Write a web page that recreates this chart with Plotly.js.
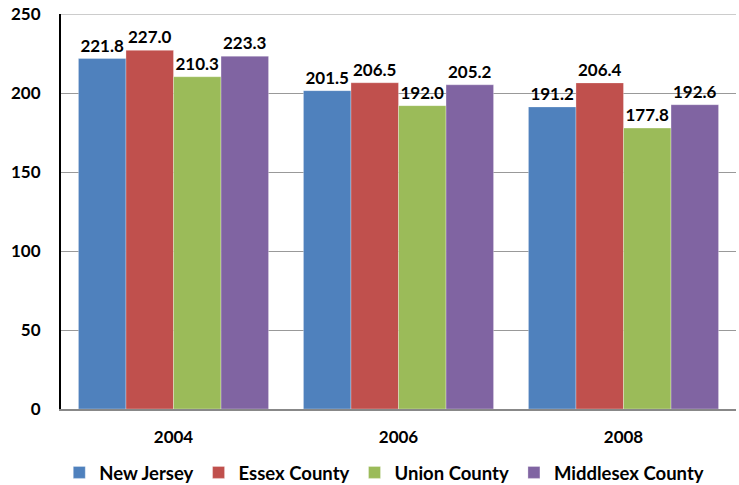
<!DOCTYPE html>
<html><head><meta charset="utf-8">
<script src="https://cdn.plot.ly/plotly-3.0.1.min.js"></script>
<style>body{margin:0;padding:0;background:#fff}#chart{width:739px;height:485px}</style>
</head><body><div id="chart"></div>
<script>
const years = ["2004", "2006", "2008"];
const seriesNames = ["New Jersey", "Essex County", "Union County", "Middlesex County"];
const newJersey = [221.8, 201.5, 191.2];
const essexCounty = [227.0, 206.5, 206.4];
const unionCounty = [210.3, 192.0, 177.8];
const middlesexCounty = [223.3, 205.2, 192.6];
const colors = ["#4F81BD", "#C0504D", "#9BBB59", "#8064A2"];
const allValues = [newJersey, essexCounty, unionCounty, middlesexCounty];

const font = "Lato, 'Liberation Sans', sans-serif";
const traces = allValues.map((vals, i) => ({
  type: "bar",
  name: seriesNames[i],
  x: years,
  y: vals,
  marker: {color: colors[i], line: {color: "rgba(255,255,255,0.6)", width: 0.5}},
  text: vals.map(v => v.toFixed(1)),
  textposition: "outside",
  cliponaxis: false,
  textfont: {family: font, size: 17, color: "#000", weight: "bold"},
  hoverinfo: "skip"
}));

const layout = {
  width: 739, height: 485,
  margin: {l: 61, r: 3, t: 14, b: 76},
  paper_bgcolor: "#fff", plot_bgcolor: "#fff",
  barmode: "group", bargap: 0.155, bargroupgap: 0,
  font: {family: font, color: "#000"},
  xaxis: {
    type: "category", automargin: false,
    tickfont: {family: font, size: 17, color: "#000", weight: "bold"},
    showline: true, linecolor: "#888", linewidth: 2,
    ticks: "", ticklabelstandoff: 12,
    showgrid: false, mirror: false
  },
  yaxis: {
    range: [0, 250], dtick: 50, automargin: false,
    tickfont: {family: font, size: 17, color: "#000", weight: "bold"},
    showline: true, linecolor: "#000", linewidth: 2,
    gridcolor: "#999", gridwidth: 1,
    ticks: "", ticklabelstandoff: 15,
    zeroline: false
  },
  shapes: [{type: "line", xref: "paper", yref: "y", x0: 0, x1: 1, y0: 250, y1: 250, line: {color: "#999", width: 1}}],
  legend: {
    orientation: "h", xref: "container", x: 0.52, xanchor: "center",
    yref: "container", y: 0.025, yanchor: "middle",
    font: {family: font, size: 18.5, color: "#000", weight: "bold"},
    itemwidth: 30, traceorder: "normal"
  },
  showlegend: true
};
Plotly.newPlot("chart", traces, layout, {displayModeBar: false, staticPlot: true});
</script></body></html>
